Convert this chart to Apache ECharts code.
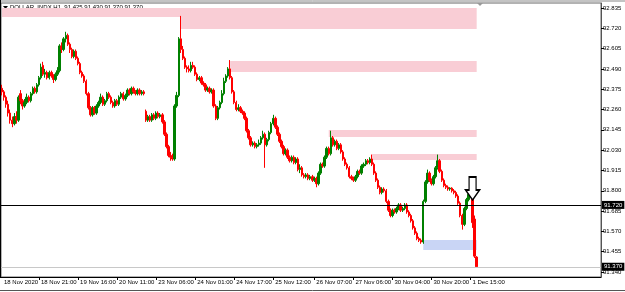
<!DOCTYPE html>
<html>
<head>
<meta charset="utf-8">
<script src="https://cdn.jsdelivr.net/npm/echarts@6/dist/echarts.min.js"></script>
<style>
  html, body { margin: 0; padding: 0; background: #fff; }
  #chart { width: 625px; height: 292px; }
</style>
</head>
<body>
<div id="chart"></div>
<script>
// hourly candles, [open, close, low, high]
var candles = [
  [92.38,92.36,92.34,92.40],[92.36,92.33,92.31,92.37],[92.33,92.29,92.27,92.34],[92.29,92.24,92.22,92.31],
  [92.24,92.20,92.18,92.26],[92.20,92.18,92.16,92.22],[92.18,92.22,92.17,92.24],[92.22,92.20,92.18,92.25],
  [92.20,92.33,92.19,92.34],[92.35,92.31,92.29,92.37],[92.31,92.28,92.26,92.32],[92.28,92.30,92.27,92.32],
  [92.30,92.33,92.29,92.35],[92.33,92.31,92.30,92.34],[92.31,92.35,92.30,92.36],[92.35,92.38,92.34,92.39],
  [92.38,92.36,92.35,92.39],[92.36,92.40,92.35,92.41],[92.40,92.44,92.39,92.45],[92.44,92.50,92.43,92.52],
  [92.51,92.46,92.45,92.53],[92.46,92.47,92.44,92.49],[92.47,92.44,92.43,92.48],[92.44,92.47,92.43,92.48],
  [92.47,92.45,92.44,92.48],[92.45,92.43,92.41,92.46],[92.43,92.46,92.42,92.47],[92.46,92.48,92.45,92.50],
  [92.48,92.62,92.47,92.63],[92.62,92.60,92.58,92.64],[92.60,92.66,92.59,92.67],[92.66,92.68,92.64,92.70],
  [92.68,92.63,92.62,92.69],[92.63,92.60,92.58,92.64],[92.60,92.56,92.55,92.61],[92.56,92.59,92.55,92.60],
  [92.59,92.55,92.54,92.60],[92.55,92.52,92.51,92.56],[92.52,92.47,92.46,92.53],[92.47,92.45,92.44,92.48],
  [92.45,92.42,92.41,92.46],[92.42,92.35,92.34,92.43],[92.35,92.27,92.26,92.36],[92.27,92.23,92.22,92.28],
  [92.23,92.27,92.22,92.28],[92.27,92.24,92.23,92.28],[92.24,92.28,92.23,92.29],[92.28,92.30,92.27,92.31],
  [92.30,92.33,92.29,92.35],[92.33,92.29,92.28,92.34],[92.29,92.31,92.28,92.32],[92.31,92.35,92.30,92.36],
  [92.35,92.33,92.32,92.36],[92.33,92.30,92.29,92.34],[92.30,92.28,92.27,92.31],[92.28,92.31,92.27,92.32],
  [92.31,92.29,92.28,92.32],[92.29,92.33,92.28,92.34],[92.33,92.35,92.32,92.36],[92.35,92.32,92.31,92.36],
  [92.32,92.34,92.31,92.35],[92.34,92.37,92.33,92.38],[92.37,92.35,92.34,92.38],[92.35,92.38,92.34,92.39],
  [92.38,92.36,92.35,92.39],[92.36,92.35,92.34,92.37],[92.35,92.37,92.34,92.38],[92.37,92.35,92.34,92.38],
  [92.35,92.36,92.34,92.37],[92.36,92.35,92.34,92.37],[92.25,92.20,92.19,92.26],[92.20,92.22,92.19,92.23],
  [92.22,92.20,92.19,92.23],[92.20,92.23,92.19,92.24],[92.23,92.21,92.20,92.24],[92.21,92.24,92.20,92.25],
  [92.24,92.22,92.21,92.25],[92.22,92.23,92.21,92.24],[92.23,92.19,92.18,92.24],[92.19,92.12,92.11,92.20],
  [92.12,92.05,92.04,92.13],[92.05,92.00,91.99,92.06],[92.00,91.99,91.97,92.02],[91.99,91.98,91.97,92.01],
  [91.98,92.28,91.97,92.29],[92.28,92.34,92.27,92.36],[92.34,92.66,92.33,92.67],[92.66,92.60,92.58,92.79],
  [92.60,92.55,92.54,92.62],[92.55,92.50,92.49,92.56],[92.50,92.49,92.47,92.51],[92.49,92.48,92.47,92.51],
  [92.48,92.51,92.47,92.53],[92.51,92.50,92.49,92.53],[92.50,92.46,92.45,92.51],[92.46,92.43,92.42,92.47],
  [92.43,92.44,92.42,92.45],[92.44,92.41,92.40,92.45],[92.41,92.40,92.39,92.42],[92.40,92.37,92.36,92.41],
  [92.37,92.38,92.36,92.39],[92.38,92.36,92.35,92.39],[92.36,92.37,92.35,92.38],[92.37,92.28,92.27,92.38],
  [92.28,92.21,92.20,92.29],[92.21,92.27,92.20,92.28],[92.27,92.30,92.26,92.31],[92.30,92.35,92.29,92.37],
  [92.35,92.42,92.34,92.44],[92.42,92.45,92.41,92.46],[92.45,92.49,92.44,92.50],[92.49,92.44,92.43,92.54],
  [92.44,92.36,92.35,92.45],[92.36,92.30,92.29,92.37],[92.30,92.26,92.25,92.31],[92.26,92.27,92.25,92.29],
  [92.27,92.25,92.24,92.28],[92.25,92.24,92.23,92.26],[92.24,92.21,92.20,92.25],[92.21,92.14,92.13,92.22],
  [92.14,92.10,92.09,92.15],[92.10,92.06,92.05,92.11],[92.06,92.07,92.05,92.08],[92.07,92.05,92.04,92.08],
  [92.05,92.06,92.04,92.07],[92.06,92.07,92.05,92.09],[92.07,92.10,92.06,92.11],[92.10,92.12,92.09,92.14],
  [92.12,92.06,91.93,92.13],[92.06,92.09,92.05,92.10],[92.09,92.13,92.08,92.14],[92.13,92.18,92.12,92.19],
  [92.18,92.21,92.17,92.23],[92.21,92.16,92.15,92.22],[92.16,92.12,92.11,92.17],[92.12,92.08,92.07,92.13],
  [92.08,92.05,92.04,92.09],[92.05,92.01,92.00,92.06],[92.01,92.03,92.00,92.04],[92.03,91.99,91.98,92.04],
  [91.99,91.97,91.96,92.00],[91.97,91.99,91.96,92.00],[91.99,91.96,91.95,92.00],[91.96,91.98,91.95,91.99],
  [91.98,91.92,91.91,91.99],[91.92,91.93,91.90,91.95],[91.93,91.89,91.88,91.94],[91.89,91.88,91.87,91.90],
  [91.88,91.89,91.87,91.90],[91.89,91.87,91.86,91.90],[91.87,91.88,91.86,91.89],[91.88,91.86,91.85,91.89],
  [91.86,91.87,91.85,91.88],[91.87,91.84,91.82,91.88],[91.84,91.90,91.83,91.91],[91.90,91.95,91.89,91.96],
  [91.95,91.94,91.93,91.96],[91.94,91.99,91.93,92.00],[91.99,92.04,91.98,92.05],[92.04,92.01,92.00,92.05],
  [92.01,92.10,92.00,92.14],[92.10,92.06,92.05,92.11],[92.06,92.08,92.05,92.09],[92.08,92.04,92.03,92.09],
  [92.04,92.06,92.03,92.07],[92.06,92.02,92.01,92.07],[92.02,91.98,91.97,92.03],[91.98,91.95,91.94,91.99],
  [91.95,91.93,91.92,91.96],[91.93,91.88,91.87,91.94],[91.88,91.87,91.86,91.89],[91.87,91.86,91.85,91.88],
  [91.86,91.88,91.85,91.89],[91.88,91.91,91.87,91.92],[91.91,91.90,91.89,91.92],[91.90,91.94,91.89,91.95],
  [91.94,91.95,91.93,91.96],[91.95,91.97,91.94,91.98],[91.97,91.96,91.95,91.98],[91.96,91.98,91.95,91.99],
  [91.98,91.95,91.94,92.005],[91.95,91.90,91.89,91.96],[91.90,91.86,91.85,91.91],[91.86,91.82,91.81,91.87],
  [91.82,91.79,91.78,91.83],[91.79,91.81,91.78,91.82],[91.81,91.80,91.79,91.82],[91.80,91.74,91.73,91.81],
  [91.74,91.69,91.68,91.75],[91.69,91.66,91.65,91.70],[91.66,91.69,91.65,91.70],[91.69,91.68,91.67,91.70],
  [91.68,91.70,91.67,91.71],[91.70,91.72,91.69,91.73],[91.72,91.69,91.68,91.73],[91.69,91.70,91.68,91.71],
  [91.70,91.72,91.69,91.73],[91.72,91.68,91.67,91.73],[91.68,91.66,91.65,91.69],[91.66,91.63,91.62,91.67],
  [91.63,91.59,91.58,91.64],[91.59,91.56,91.55,91.60],[91.56,91.53,91.52,91.57],[91.53,91.52,91.51,91.54],
  [91.52,91.51,91.50,91.53],[91.51,91.74,91.50,91.75],[91.74,91.85,91.73,91.86],[91.85,91.90,91.84,91.92],
  [91.90,91.86,91.85,91.91],[91.86,91.84,91.83,91.87],[91.84,91.88,91.83,91.89],[91.88,91.93,91.87,91.94],
  [91.93,91.97,91.92,92.005],[91.97,91.91,91.90,91.98],[91.91,91.86,91.85,91.92],[91.86,91.83,91.82,91.87],
  [91.83,91.82,91.81,91.84],[91.82,91.81,91.80,91.83],[91.81,91.815,91.80,91.82],[91.815,91.80,91.79,91.82],
  [91.80,91.79,91.78,91.81],[91.79,91.77,91.76,91.80],[91.77,91.73,91.72,91.78],[91.73,91.66,91.65,91.74],
  [91.66,91.61,91.58,91.67],[91.61,91.70,91.60,91.71],[91.70,91.75,91.69,91.76],[91.75,91.78,91.74,91.79],
  [91.78,91.80,91.77,91.81],[91.80,91.62,91.59,91.81],[91.64,91.43,91.42,91.66],[91.425,91.37,91.37,91.43]
];

// x axis time labels and the bar they sit on
var timeLabels = ['18 Nov 2020', '18 Nov 21:00', '19 Nov 16:00', '20 Nov 11:00', '23 Nov 06:00', '24 Nov 01:00',
  '24 Nov 17:00', '25 Nov 12:00', '26 Nov 07:00', '27 Nov 06:00', '30 Nov 04:00', '30 Nov 20:00', '1 Dec 15:00'];
var labelBars = [0, 18, 37, 56, 75, 94, 113, 132, 152, 171, 190, 209, 228];

// price scale ticks
var priceTicks = [92.835, 92.720, 92.605, 92.490, 92.375, 92.260, 92.145, 92.030, 91.915, 91.800, 91.685, 91.570, 91.455, 91.340];

// zones: [fromBar, toBar, top, bottom]
var supplyZones = [
  [0, 231, 92.835, 92.784],
  [87, 231, 92.784, 92.716],
  [111, 231, 92.535, 92.473],
  [159, 231, 92.144, 92.105],
  [180, 231, 92.008, 91.974]
];
var demandZones = [
  [205, 231, 91.521, 91.465]
];

var levelPrice = 91.720;
var bidPrice = 91.370;
var arrowAt = [229, 91.813];

var slotCount = 292;
var slots = [];
for (var i = 0; i < slotCount; i++) slots.push(String(i));

var last = candles[candles.length - 1];
var titleText = 'DOLLAR_INDX,H1  ' + [last[0], last[3], last[2], last[1]].map(function (v) { return v.toFixed(3); }).join(' ');

var zoneData = [];
supplyZones.forEach(function (z) {
  zoneData.push([{ xAxis: z[0], yAxis: z[2], itemStyle: { color: '#f9cdd5' } }, { xAxis: z[1], yAxis: z[3] }]);
});
demandZones.forEach(function (z) {
  zoneData.push([{ xAxis: z[0], yAxis: z[2], itemStyle: { color: '#c9d5f5' } }, { xAxis: z[1], yAxis: z[3] }]);
});

var chart = echarts.init(document.getElementById('chart'), null, { renderer: 'canvas' });

var font = 'Liberation Sans, Arial, sans-serif';

var option = {
  animation: false,
  backgroundColor: '#fff',
  grid: { left: 1, right: 24, top: 3, bottom: 15, show: true, borderColor: '#666', borderWidth: 1 },
  xAxis: {
    type: 'category',
    data: slots,
    boundaryGap: true,
    axisLine: { show: true, lineStyle: { color: '#000', width: 1 } },
    axisTick: {
      show: true, alignWithLabel: true, length: 3, lineStyle: { color: '#000' },
      interval: function (idx) { return labelBars.indexOf(idx) > 0; }
    },
    axisLabel: {
      show: true, fontSize: 6, color: '#000', fontFamily: font, align: 'left', margin: 2, padding: [0, 0, 0, 2],
      interval: function (idx) { return labelBars.indexOf(idx) >= 0; },
      formatter: function (v, idx) { var k = labelBars.indexOf(idx); return k >= 0 ? timeLabels[k] : ''; }
    },
    splitLine: { show: false }
  },
  yAxis: {
    type: 'value',
    position: 'right',
    min: 91.312,
    max: 92.863,
    scale: true,
    axisLine: { show: true, lineStyle: { color: '#555' } },
    axisTick: { show: true, length: 3, inside: false, lineStyle: { color: '#000' }, customValues: priceTicks },
    axisLabel: {
      fontSize: 6, color: '#000', fontFamily: font, margin: 2, customValues: priceTicks,
      formatter: function (v) { return v.toFixed(3); }
    },
    splitLine: { show: false }
  },
  series: [{
    type: 'candlestick',
    data: candles,
    barWidth: 1.9,
    silent: true,
    itemStyle: { color: '#008000', color0: '#ff0000', borderColor: '#008000', borderColor0: '#ff0000', borderWidth: 1 },
    markArea: { silent: true, z: 0, data: zoneData },
    markLine: {
      silent: true, symbol: 'none', animation: false,
      data: [
        { yAxis: levelPrice, lineStyle: { color: '#000', width: 1, type: 'solid' },
          label: { formatter: levelPrice.toFixed(3) } },
        { yAxis: bidPrice, lineStyle: { color: '#c8c8c8', width: 1, type: 'solid' },
          label: { formatter: bidPrice.toFixed(3) } }
      ],
      label: { show: true, position: 'end', distance: 1, color: '#fff', backgroundColor: '#000',
        fontSize: 6, fontFamily: font, padding: [1, 2, 1, 2] }
    },
    markPoint: {
      silent: true,
      data: [{ coord: arrowAt, symbol: 'path://M3.5,0 L10.5,0 L10.5,13 L14,13 L7,23 L0,13 L3.5,13 Z',
        symbolSize: [14, 23], itemStyle: { color: '#fff', borderColor: '#000', borderWidth: 1.5 }, label: { show: false } }]
    }
  }],
  graphic: [
    { type: 'line', shape: { x1: 0, y1: 1, x2: 625, y2: 1 }, style: { stroke: '#888', lineWidth: 1 } },
    { type: 'line', shape: { x1: 0.5, y1: 0, x2: 0.5, y2: 278 }, style: { stroke: '#000', lineWidth: 1 } },
    { type: 'line', shape: { x1: 0, y1: 290.5, x2: 625, y2: 290.5 }, style: { stroke: '#555', lineWidth: 1 } },
    { type: 'polygon', shape: { points: [[477, 3], [483, 3], [480, 6]] }, style: { fill: '#999' } },
    { type: 'polygon', shape: { points: [[3, 6], [8, 6], [5.5, 9]] }, style: { fill: '#000' } },
    { type: 'text', left: 10, top: 4, style: { text: titleText, fontSize: 6, fontFamily: font, fill: '#000' } }
  ]
};

chart.setOption(option);
</script>
</body>
</html>
